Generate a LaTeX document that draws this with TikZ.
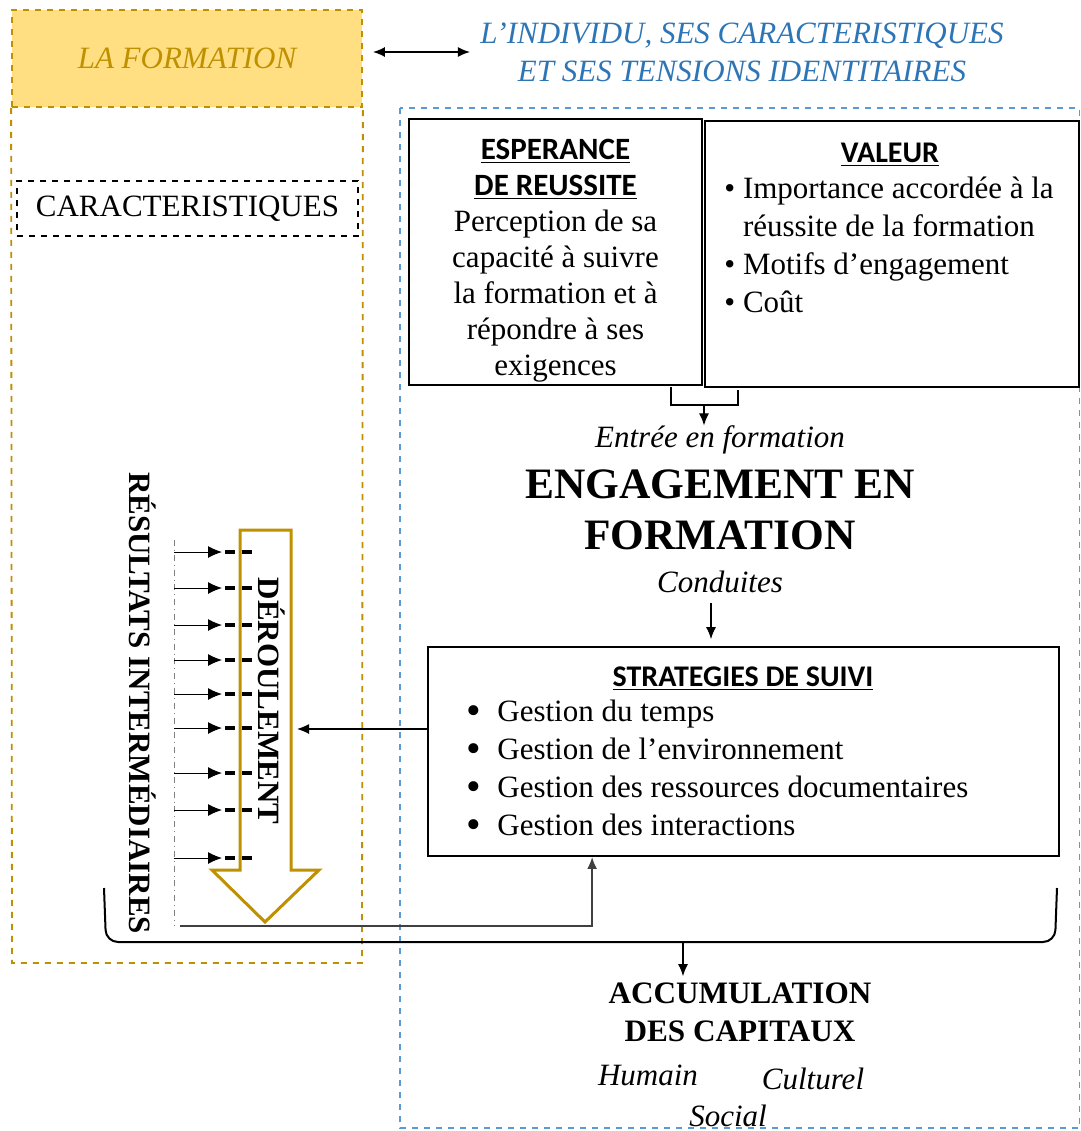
\documentclass[tikz,border=0pt]{standalone}
\usepackage{fontspec}
\setmainfont{Liberation Serif}
\newfontfamily\hdrfont{Carlito}
\usetikzlibrary{calc,arrows.meta}
\definecolor{goldc}{RGB}{191,144,0}
\definecolor{goldfill}{RGB}{255,223,130}
\definecolor{bluec}{RGB}{46,117,182}
\definecolor{bluedash}{RGB}{91,155,213}
\newcommand{\bigbul}{\makebox[15.5pt][l]{\raisebox{-0.08em}{\scalebox{1.35}{\textbullet}}}}

\tikzset{box/.style={draw,line width=0.9pt,inner sep=0pt},
  txt/.style={inner sep=0pt,font=\fontsize{15.5}{18}\selectfont},
  ital/.style={inner sep=0pt,font=\itshape\fontsize{15.5}{18}\selectfont},
  hdr/.style={inner sep=0pt,font=\hdrfont\bfseries\fontsize{15}{18}\selectfont},
  arr/.style={-{Latex[length=6pt,width=5pt]},line width=0.6pt}}

\begin{document}
\begin{tikzpicture}[x=0.5pt,y=-0.5pt]
    \useasboundingbox (0,0) rectangle (1081,1131);
    % la formation
    \node[fill=goldfill,draw=goldc,dashed,line width=0.9pt,minimum width=175pt,minimum height=48.5pt,inner sep=0pt,text=goldc,font=\itshape\fontsize{15.5}{18}\selectfont] (formation) at (187,58.5) {LA FORMATION};
    \draw[goldc,dashed,line width=0.9pt] (formation.south west) -- (12,963) -- (362,963) -- (formation.south east);
    \node[box,dashed,line width=0.8pt,minimum width=170.5pt,minimum height=27.5pt,txt] (caract) at (187.5,208.5) {CARACTERISTIQUES};
    % l'individu
    \node[ital,text=bluec,align=center,font=\itshape\fontsize{15.5}{19}\selectfont] (individu) at (742,52) {L’INDIVIDU, SES CARACTERISTIQUES\\ET SES TENSIONS IDENTITAIRES};
    \draw[{Latex[length=6pt,width=5pt]}-{Latex[length=6pt,width=5pt]},line width=0.8pt] ($(formation.east |- individu.west)+(10,0)$) -- ($(individu.west)+(-10,0)$);
    \draw[bluedash,dashed,line width=0.8pt] (400,108) rectangle (1079.5,1128);
    \node[box,minimum width=146.5pt,minimum height=133pt] (esperance) at (555.5,252) {};
    \node[txt,align=center] (esptxt) at (555.5,261)
        {{\hdrfont\bfseries\underline{ESPERANCE}}\\{\hdrfont\bfseries\underline{DE REUSSITE}}\\Perception de sa\\capacité à suivre\\la formation et à\\répondre à ses\\exigences};
    \node[box,line width=1.3pt,minimum width=187pt,minimum height=133pt] (valeur) at (892,254) {};
    \node[hdr] (valhd) at (890,155) {\underline{VALEUR}};
    \node[txt,align=left,anchor=north west,font=\fontsize{15.5}{19}\selectfont] (vallist) at (724,177)
        {\textbullet\ Importance accordée à la\\\hphantom{\textbullet\ }réussite de la formation\\\textbullet\ Motifs d’engagement\\\textbullet\ Coût};
    % engagement
    \draw[line width=0.8pt] (671,387) -- (671,405) -- (738,405) -- (738,390);
    \coordinate (entreeTop) at (704,405);
    \node[ital] (entree) at (720,440) {Entrée en formation};
    \draw[arr] (entreeTop) -- (entreeTop |- entree.north);
    \node[inner sep=0pt,align=center,font=\bfseries\fontsize{21.7}{25.5}\selectfont] (engagement) at (720,510) {ENGAGEMENT EN\\FORMATION};
    \node[ital] (conduites) at (720,582) {Conduites};
    \node[box,minimum width=315.5pt,minimum height=104.5pt] (strategies) at (743.5,751.5) {};
    \draw[arr] ($(conduites.south)+(-9,10)$) -- ($(conduites.south |- strategies.north)+(-9,-7)$);
    \node[hdr] (strhd) at (743,679) {\underline{STRATEGIES DE SUIVI}};
    \node[txt,align=left,anchor=north west,font=\fontsize{15.5}{19}\selectfont] (strlist) at (466,700)
        {\bigbul Gestion du temps\\\bigbul Gestion de l’environnement\\\bigbul Gestion des ressources documentaires\\\bigbul Gestion des interactions};
    % deroulement
    \draw[goldc,line width=1.5pt] (240,530) -- (291,530) -- (291,870) -- (319,870) -- (265,922) -- (212,870) -- (240,870) -- cycle;
    \node[txt,font=\bfseries\fontsize{15.5}{18}\selectfont,rotate=-90] (deroul) at (272,701) {DÉROULEMENT};
    \node[txt,font=\bfseries\fontsize{15.5}{18}\selectfont,rotate=-90] (resultats) at (143,703) {RÉSULTATS INTERMÉDIAIRES};
    \coordinate (derR) at (297,729);
    \draw[arr] (strategies.west |- derR) -- (derR);
    \draw[gray,dash dot,line width=0.5pt] (174,540) -- (174,926);
    \foreach \y in {552,588,625,660,694,728,773,810,858}{
        \draw[-{Latex[length=7pt,width=6pt]},line width=0.5pt] (174,\y) -- (222,\y);
        \draw[line width=1.6pt,dash pattern=on 5pt off 3.5pt] (225,\y) -- (253,\y);
    }
    \coordinate (retour) at (180,926);
    \draw[arr,line width=1pt,black!75] (retour) -| ($(strategies.south west)+(165,0)$);
    % accumulation
    \draw[line width=1pt,rounded corners=6pt] (104,888) -- (106,942) -- (1055,942) -- (1057,888);
    \coordinate (accTop) at (683,942);
    \node[inner sep=3pt,align=center,font=\bfseries\fontsize{15.6}{19}\selectfont] (accum) at (740,1012) {ACCUMULATION\\DES CAPITAUX};
    \draw[arr] (accTop) -- (accTop |- accum.north);
    \node[ital] (humain) at (648,1075) {Humain};
    \node[ital] (culturel) at (813,1079) {Culturel};
    \node[ital] (social) at (728,1116) {Social};
\end{tikzpicture}
\end{document}
